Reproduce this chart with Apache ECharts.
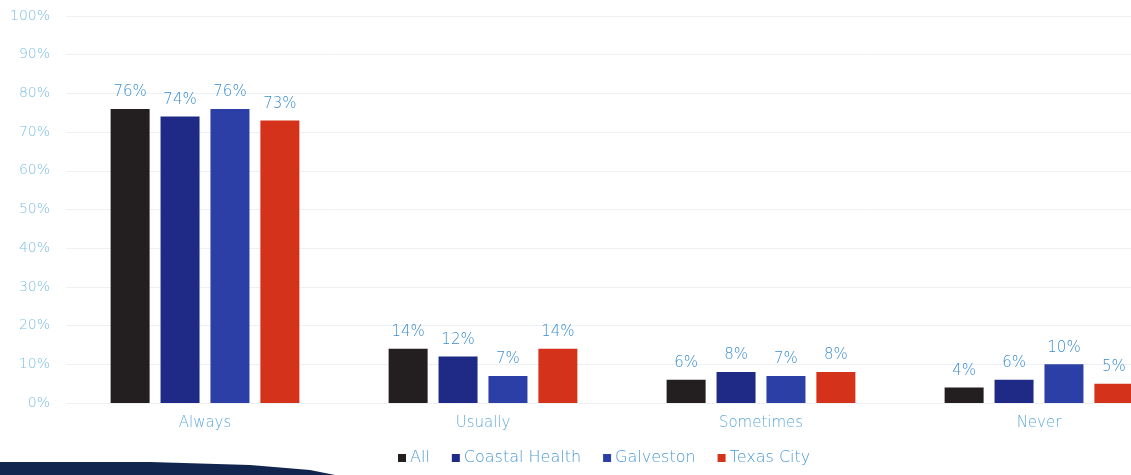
<!DOCTYPE html>
<html>
<head>
<meta charset="utf-8">
<script src="https://cdn.jsdelivr.net/npm/echarts@6/dist/echarts.min.js"></script>
<style>
  html, body { margin: 0; padding: 0; background: #ffffff; }
  #chart { width: 1131px; height: 475px; }
</style>
</head>
<body>
<div id="chart"></div>
<script>
// Survey responses by frequency, per region (percent)
const categories = ['Always', 'Usually', 'Sometimes', 'Never'];
const seriesNames = ['All', 'Coastal Health', 'Galveston', 'Texas City'];
const allValues = [76, 14, 6, 4];
const coastalHealthValues = [74, 12, 8, 6];
const galvestonValues = [76, 7, 7, 10];
const texasCityValues = [73, 14, 8, 5];
const yTicks = [0, 10, 20, 30, 40, 50, 60, 70, 80, 90, 100];

const colors = ['#231f20', '#1f2a86', '#2b3fa6', '#d4321a'];
const valueSets = [allValues, coastalHealthValues, galvestonValues, texasCityValues];
const fontFamily = '"DejaVu Sans", "Open Sans", sans-serif';

const chart = echarts.init(document.getElementById('chart'), null, { renderer: 'canvas' });

const series = seriesNames.map((name, i) => ({
  name: name,
  type: 'bar',
  data: valueSets[i],
  barWidth: 39,
  barGap: '28%',
  itemStyle: { color: colors[i] },
  label: {
    show: true,
    position: 'top',
    distance: 9,
    formatter: '{c}%',
    color: '#3a8ed0',
    fontFamily: fontFamily,
    fontWeight: 200,
    fontSize: 15
  }
}));

chart.setOption({
  backgroundColor: '#ffffff',
  animation: false,
  // the last group runs past the right edge of the page
  grid: { left: 66, top: 16, width: 1112, height: 387, outerBoundsMode: 'none', containLabel: false },
  legend: {
    data: seriesNames,
    bottom: 4,
    left: 393,
    itemWidth: 8,
    itemHeight: 8,
    itemGap: 22,
    icon: 'rect',
    textStyle: { color: '#4a9ad4', fontFamily: fontFamily, fontWeight: 200, fontSize: 16, padding: [0, 0, 0, -1] }
  },
  xAxis: {
    type: 'category',
    data: categories,
    axisLine: { show: false },
    axisTick: { show: false },
    axisLabel: { color: '#5fa9da', fontFamily: fontFamily, fontWeight: 200, fontSize: 15, margin: 13 }
  },
  yAxis: {
    type: 'value',
    min: yTicks[0],
    max: yTicks[yTicks.length - 1],
    interval: 10,
    axisLine: { show: false },
    axisTick: { show: false },
    splitLine: { lineStyle: { color: '#eef1f4', width: 1 } },
    axisLabel: {
      formatter: '{value}%',
      color: '#7cbde2',
      fontFamily: fontFamily,
      fontWeight: 200,
      fontSize: 14,
      margin: 16
    }
  },
  // dark swoosh along the bottom-left edge
  graphic: [{
    type: 'polygon',
    silent: true,
    shape: {
      points: [[0, 462], [150, 462], [250, 465], [310, 470], [335, 475], [0, 475]]
    },
    style: { fill: '#12254f' }
  }],
  series: series
});
</script>
</body>
</html>
